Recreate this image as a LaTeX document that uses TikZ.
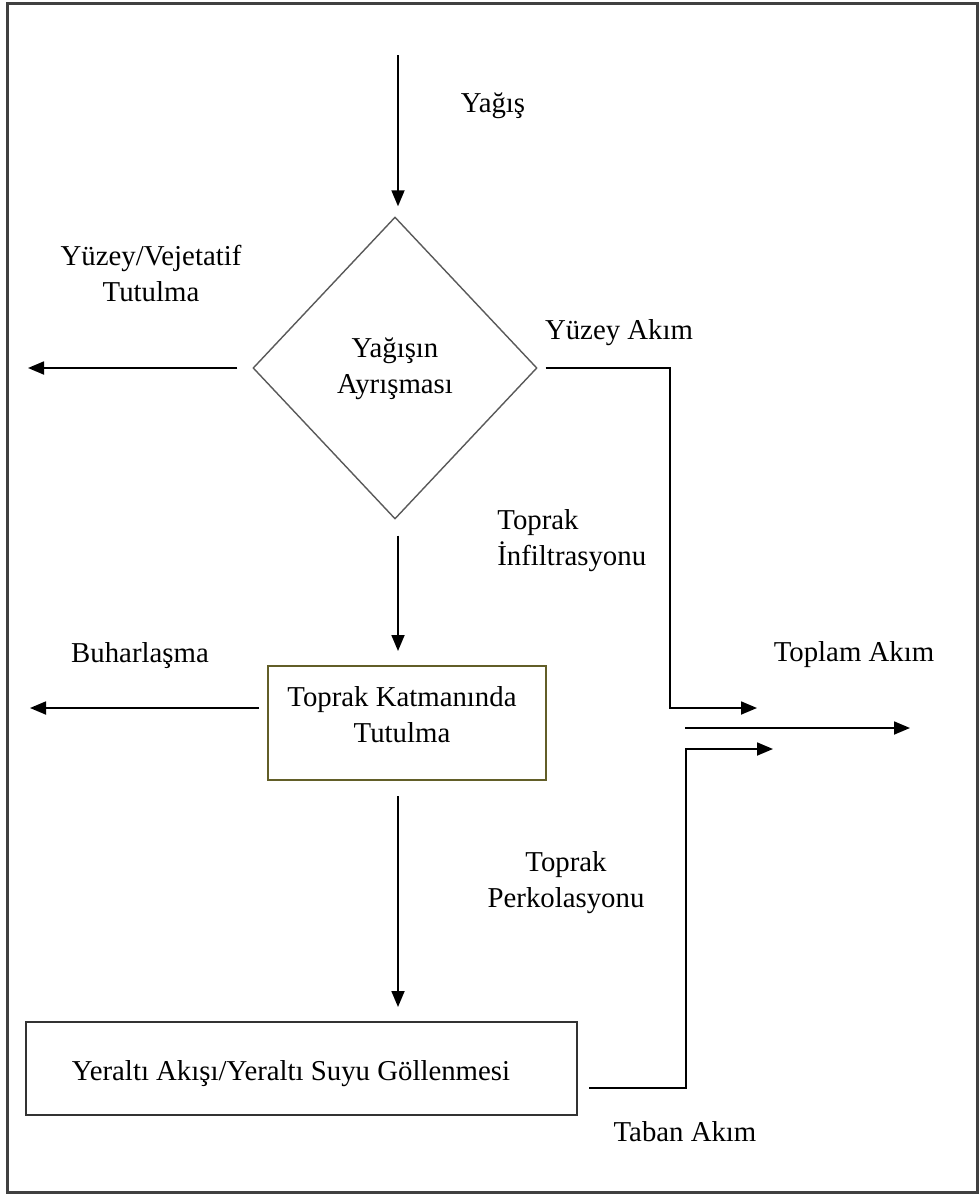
\documentclass[tikz,border=0pt]{standalone}
\usepackage{fontspec}
\setmainfont{Liberation Serif}
\usetikzlibrary{arrows.meta,shapes.geometric}
\begin{document}
\begin{tikzpicture}[x=0.5pt,y=-0.5pt,
  arr/.style={line width=0.9pt,-{Triangle[length=8pt,width=6.5pt]}},
  txt/.style={font=\fontsize{14.4}{18}\selectfont, inner sep=0pt, align=center},
  decision/.style={diamond, draw=black!65, line width=0.7pt, minimum width=142pt, minimum height=151pt, inner sep=0pt},
  olivebox/.style={draw=olive!60!black, line width=1pt, minimum width=139pt, minimum height=57pt, inner sep=0pt},
  plainbox/.style={draw=black!80, line width=1pt, minimum width=275.5pt, minimum height=46.5pt, inner sep=0pt}]
\useasboundingbox (0,0) rectangle (979,1194);
\draw[line width=1.5pt, draw=black!75] (7,3) rectangle (977,1192);

% nodes
\node[decision] (d) at (395,368) {};
\node[txt] (dtxt) at (395,369) {Yağışın\\Ayrışması};
\node[olivebox] (b1) at (407,723) {};
\node[txt] (b1txt) at (402,715) {Toprak Katmanında\\Tutulma};
\node[plainbox] (b2) at (301.5,1068.5) {};
\node[txt] (b2txt) at (291,1074) {Yeraltı Akışı/Yeraltı Suyu Göllenmesi};

% free ends
\coordinate (rainstart) at (398,55);
\coordinate (leftend1) at (28,368);
\coordinate (surfcorner) at (670,708);
\coordinate (surfend) at (757,708);
\coordinate (leftend2) at (30,708);
\coordinate (totstart) at (685,728);
\coordinate (totend) at (910,728);
\coordinate (basecorner) at (686,749);
\coordinate (baseend) at (773,749);

% connectors
\draw[arr, shorten >=5pt] (rainstart) -- (rainstart |- d.north);
\draw[arr, shorten <=7.5pt] (d.west |- leftend1) -- (leftend1);
\draw[arr, shorten <=4pt] (d.east) -| (surfcorner) -- (surfend);
\draw[arr, shorten <=8pt, shorten >=7pt] (d.south -| rainstart) -- (rainstart |- b1.north);
\draw[arr, shorten <=4pt] (b1.west |- leftend2) -- (leftend2);
\draw[arr, shorten <=7.5pt, shorten >=7pt] (b1.south -| rainstart) -- (rainstart |- b2.north);
\draw[arr, shorten <=5.5pt] (b2.east |- 0,1088) -| (basecorner) -- (baseend);
\draw[arr] (totstart) -- (totend);

% labels
\node[txt] (l1) at (493,106) {Yağış};
\node[txt] (l2) at (151,273) {Yüzey/Vejetatif\\Tutulma};
\node[txt] (l3) at (619,333) {Yüzey Akım};
\node[txt, align=left, anchor=west] (l4) at (497,541) {Toprak\\İnfiltrasyonu};
\node[txt] (l5) at (140,656) {Buharlaşma};
\node[txt] (l6) at (854,655) {Toplam Akım};
\node[txt] (l7) at (566,883) {Toprak\\Perkolasyonu};
\node[txt] (l8) at (685,1132) {Taban Akım};
\end{tikzpicture}
\end{document}
